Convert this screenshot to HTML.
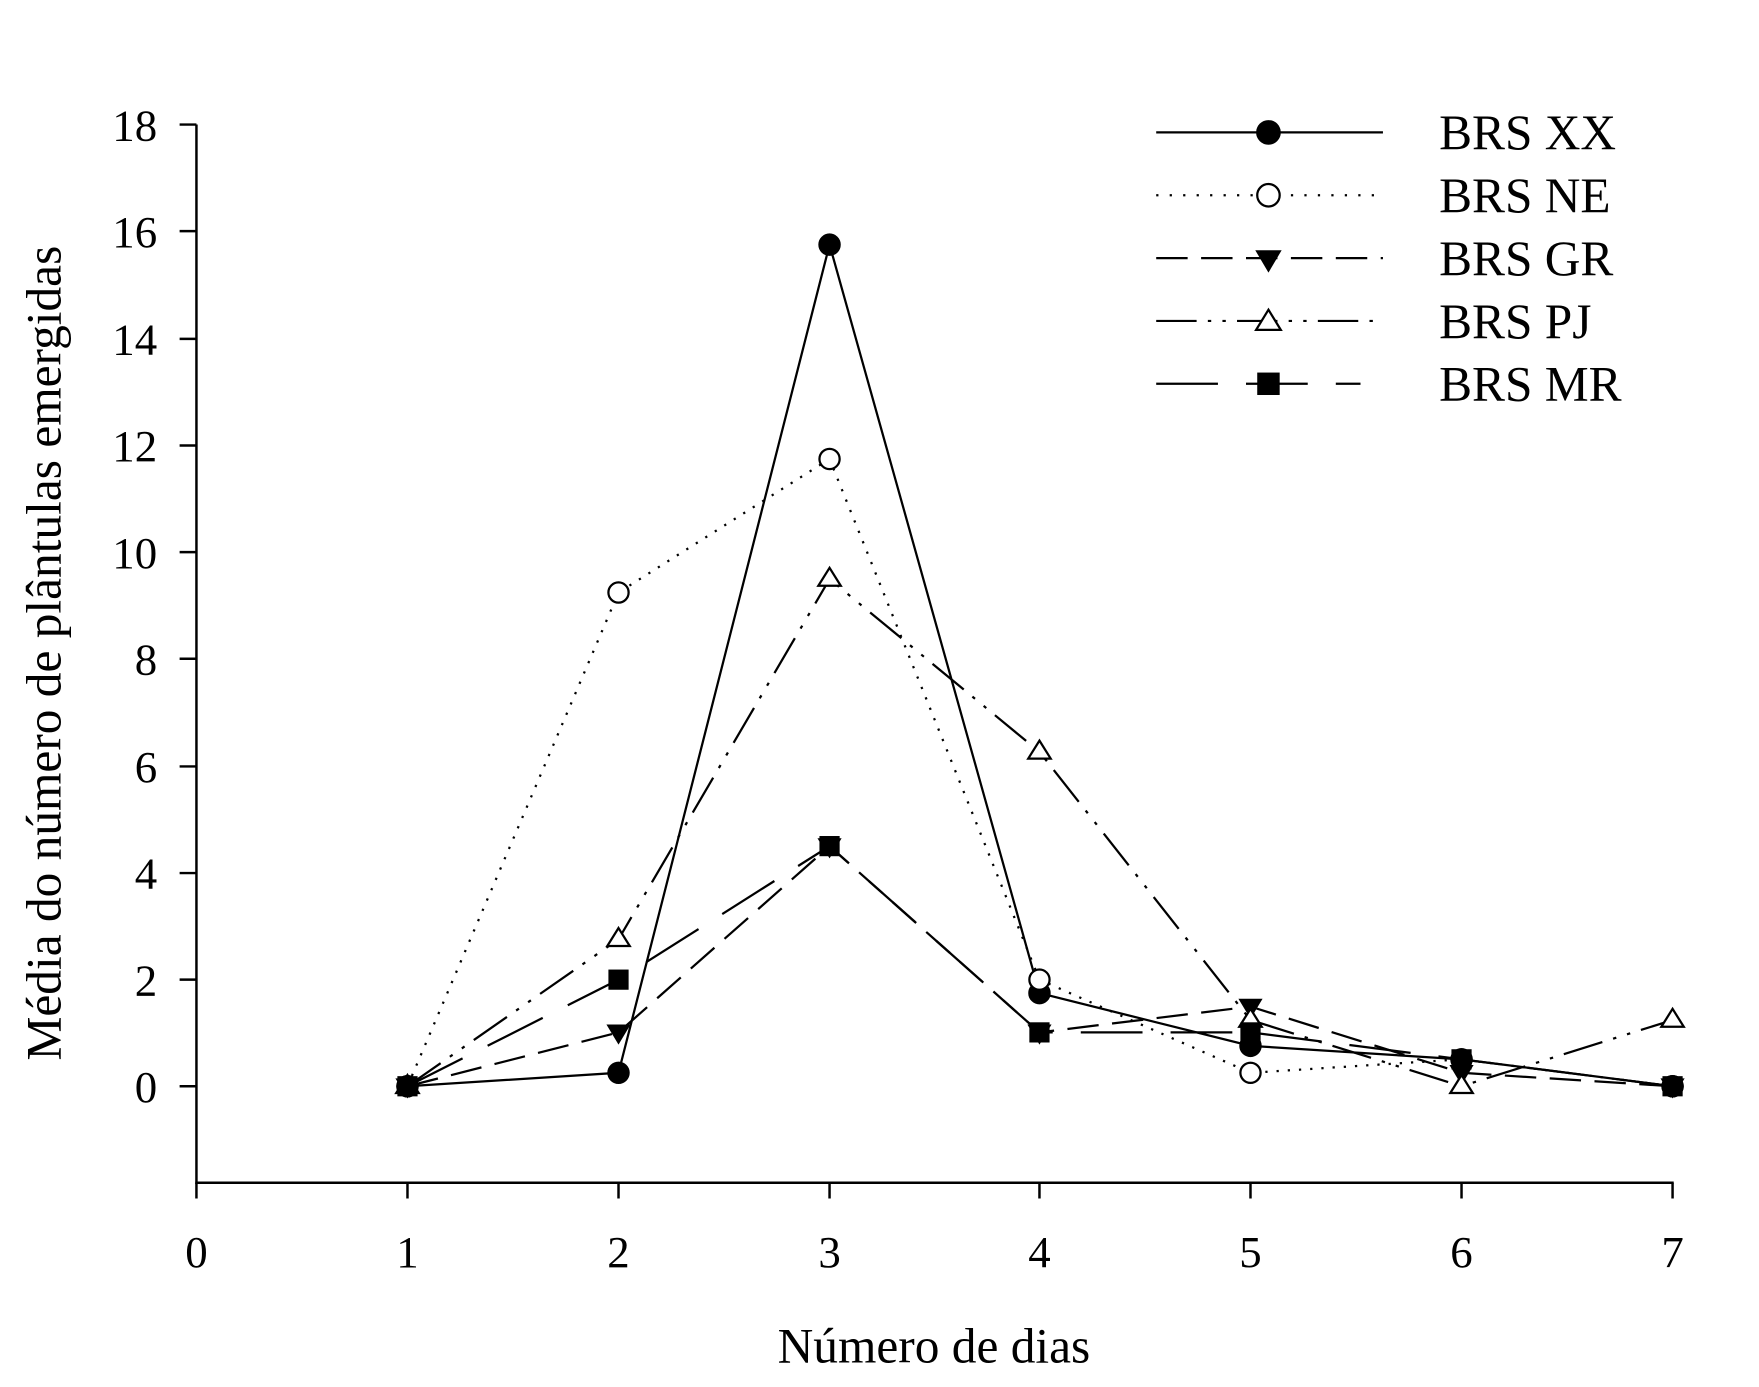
<!DOCTYPE html>
<html><head><meta charset="utf-8"><style>html,body{margin:0;padding:0;background:#fff}svg{display:block}</style></head>
<body>
<svg width="1759" height="1387" viewBox="0 0 1567 1236" preserveAspectRatio="none" xmlns="http://www.w3.org/2000/svg" font-family="Liberation Serif, serif">
<rect width="1567" height="1236" fill="#fff"/>
<g stroke="#000" stroke-width="2.2" fill="none">
<line x1="175" y1="111" x2="175" y2="1055"/>
<line x1="174" y1="1054" x2="1491" y2="1054"/>
<path d="M160 111H175M160 206H175M160 302H175M160 397H175M160 492H175M160 587H175M160 683H175M160 778H175M160 873H175M160 968H175"/>
<path d="M175 1054V1068M363 1054V1068M551 1054V1068M739 1054V1068M926 1054V1068M1114 1054V1068M1302 1054V1068M1490 1054V1068"/>
</g>
<g font-size="40" text-anchor="end">
<text x="140" y="125">18</text><text x="140" y="220">16</text><text x="140" y="316">14</text><text x="140" y="411">12</text><text x="140" y="506">10</text><text x="140" y="601">8</text><text x="140" y="697">6</text><text x="140" y="792">4</text><text x="140" y="887">2</text><text x="140" y="982">0</text>
</g>
<g font-size="40" text-anchor="middle">
<text x="175" y="1129">0</text><text x="363" y="1129">1</text><text x="551" y="1129">2</text><text x="739" y="1129">3</text><text x="926" y="1129">4</text><text x="1114" y="1129">5</text><text x="1302" y="1129">6</text><text x="1490" y="1129">7</text>
<text x="832" y="1214" font-size="44">Número de dias</text>
<text transform="translate(54,582) rotate(-90)" font-size="44">Média do número de plântulas emergidas</text>
</g>
<g fill="none" stroke="#000" stroke-width="2">
<polyline points="363,968 551,956 739,218 926,885 1114,932 1302,944 1490,968"/>
<polyline stroke-dasharray="2,8" points="363,968 551,528 739,409 926,873 1114,956 1302,944 1490,968"/>
<polyline stroke-dasharray="28,12" points="363,968 551,920 739,754 926,920 1114,897 1302,956 1490,968"/>
<polyline stroke-dasharray="36,10,3,10,3,10" points="363,968 551,837 739,516 926,670 1114,909 1302,968 1490,909"/>
<polyline stroke-dasharray="55,25" points="363,968 551,873 739,754 926,920 1114,920 1302,944 1490,968"/>
</g>
<g stroke="#000" stroke-width="2">
<g fill="#000"><circle cx="363" cy="968" r="9"/><circle cx="551" cy="956" r="9"/><circle cx="739" cy="218" r="9"/><circle cx="926" cy="885" r="9"/><circle cx="1114" cy="932" r="9"/><circle cx="1302" cy="944" r="9"/><circle cx="1490" cy="968" r="9"/></g>
<g fill="#fff"><circle cx="363" cy="968" r="9"/><circle cx="551" cy="528" r="9"/><circle cx="739" cy="409" r="9"/><circle cx="926" cy="873" r="9"/><circle cx="1114" cy="956" r="9"/><circle cx="1490" cy="968" r="9"/></g>
<g fill="#000"><path d="M354 962h18l-9 15z"/><path d="M542 914h18l-9 15z"/><path d="M730 748h18l-9 15z"/><path d="M917 914h18l-9 15z"/><path d="M1105 891h18l-9 15z"/><path d="M1293 950h18l-9 15z"/><path d="M1481 962h18l-9 15z"/></g>
<g fill="#fff"><path d="M363 958l10 16h-20z"/><path d="M551 827l10 16h-20z"/><path d="M739 506l10 16h-20z"/><path d="M926 660l10 16h-20z"/><path d="M1114 899l10 16h-20z"/><path d="M1302 958l10 16h-20z"/><path d="M1490 899l10 16h-20z"/></g>
<g fill="#000"><rect x="355" y="960" width="16" height="16"/><rect x="543" y="865" width="16" height="16"/><rect x="731" y="746" width="16" height="16"/><rect x="918" y="912" width="16" height="16"/><rect x="1106" y="912" width="16" height="16"/><rect x="1294" y="936" width="16" height="16"/><rect x="1482" y="960" width="16" height="16"/></g>
<circle cx="1302" cy="944" r="9" fill="#000"/>
</g>
<g stroke="#000" stroke-width="2" fill="none">
<line x1="1030" y1="118" x2="1232" y2="118"/>
<line x1="1030" y1="174" x2="1232" y2="174" stroke-dasharray="2,10"/>
<line x1="1030" y1="230" x2="1232" y2="230" stroke-dasharray="28,12"/>
<line x1="1030" y1="286" x2="1232" y2="286" stroke-dasharray="36,10,3,10,3,10"/>
<line x1="1030" y1="342" x2="1212" y2="342" stroke-dasharray="55,25"/>
</g>
<g stroke="#000" stroke-width="2">
<circle cx="1130" cy="118" r="10" fill="#000"/>
<circle cx="1130" cy="174" r="10" fill="#fff"/>
<path d="M1120 224h20l-10 17z" fill="#000"/>
<path d="M1130 276l11 18h-22z" fill="#fff"/>
<rect x="1121" y="333" width="18" height="18" fill="#000"/>
</g>
<g font-size="44">
<text x="1282" y="133">BRS XX</text>
<text x="1282" y="189">BRS NE</text>
<text x="1282" y="245">BRS GR</text>
<text x="1282" y="301">BRS PJ</text>
<text x="1282" y="357">BRS MR</text>
</g>
</svg>
</body></html>
